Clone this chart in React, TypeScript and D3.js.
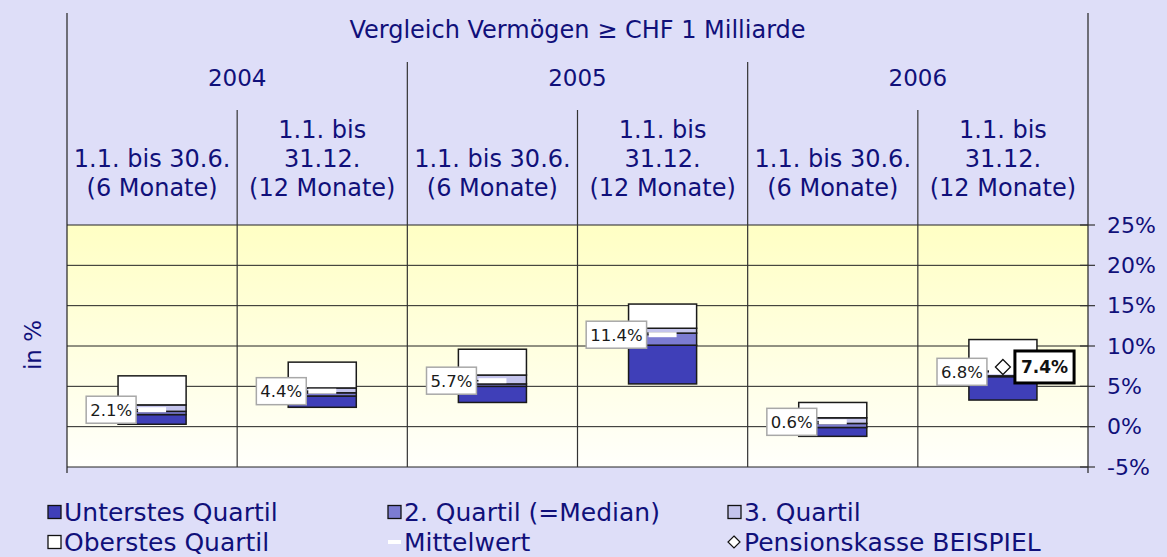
import React from "react";
import * as d3 from "d3";

const title = "Vergleich Vermögen ≥ CHF 1 Milliarde";
const years = ["2004", "2005", "2006"];
const periodLabels: string[][] = [
  ["1.1. bis 30.6.", "(6 Monate)"],
  ["1.1. bis", "31.12.", "(12 Monate)"],
  ["1.1. bis 30.6.", "(6 Monate)"],
  ["1.1. bis", "31.12.", "(12 Monate)"],
  ["1.1. bis 30.6.", "(6 Monate)"],
  ["1.1. bis", "31.12.", "(12 Monate)"],
];
const yTicks = [-5, 0, 5, 10, 15, 20, 25];

const minVals = [0.3, 2.4, 3.0, 5.3, -1.2, 3.3];
const q1Vals = [1.5, 3.8, 5.0, 10.1, -0.1, 6.2];
const medianVals = [1.9, 4.2, 5.3, 11.6, 0.4, 6.3];
const q3Vals = [2.7, 4.8, 6.4, 12.2, 1.1, 6.9];
const maxVals = [6.3, 8.0, 9.6, 15.2, 3.0, 10.8];
const meanVals = [2.1, 4.4, 5.7, 11.4, 0.6, 6.8];
const pkVals: (number | null)[] = [null, null, null, null, null, 7.4];

const legendLabels = [
  "Unterstes Quartil",
  "2. Quartil (=Median)",
  "3. Quartil",
  "Oberstes Quartil",
  "Mittelwert",
  "Pensionskasse BEISPIEL",
];

const NAVY = "#10107a";
const C_Q1 = "#3f3fb8";
const C_Q2 = "#7c7cd2";
const C_Q3 = "#c4c4ec";
const C_Q4 = "#ffffff";
const BG = "#dedef8";
const FONT = "'DejaVu Sans', Verdana, sans-serif";

function textW(s: string, size: number, bold = false) {
  let w = 0;
  for (const ch of s) {
    if (/[0-9]/.test(ch)) w += bold ? 0.696 : 0.636;
    else if (ch === ".") w += bold ? 0.38 : 0.318;
    else if (ch === "%") w += bold ? 1.002 : 0.95;
    else w += 0.6;
  }
  return w * size;
}

export default function App() {
  const W = 1167, H = 557;
  const left = 67, right = 1088, top = 225, bottom = 467;
  const y = d3.scaleLinear().domain([-5, 25]).range([bottom, top]);
  const idx = d3.range(6);
  const x = d3.scaleBand<number>().domain(idx).range([left, right]).paddingInner(0.6).paddingOuter(0.3);
  const col = d3.scaleLinear().domain([0, 6]).range([left, right]);
  const bw = x.bandwidth();
  const dashHalf = 14;

  const segs = [
    { lo: minVals, hi: q1Vals, fill: C_Q1 },
    { lo: q1Vals, hi: medianVals, fill: C_Q2 },
    { lo: medianVals, hi: q3Vals, fill: C_Q3 },
    { lo: q3Vals, hi: maxVals, fill: C_Q4 },
  ];

  const legendPos = [
    { x: 48, y: 512 }, { x: 388, y: 512 }, { x: 728, y: 512 },
    { x: 48, y: 542 }, { x: 388, y: 542 }, { x: 728, y: 542 },
  ];
  const legendFills = [C_Q1, C_Q2, C_Q3, C_Q4];

  return (
    <svg width={W} height={H} style={{ position: "absolute", left: 0, top: 0, fontFamily: FONT }}>
      <defs>
        <linearGradient id="plotbg" x1="0" y1="0" x2="0" y2="1">
          <stop offset="0" stopColor="#ffffc4" />
          <stop offset="1" stopColor="#fffffb" />
        </linearGradient>
      </defs>
      <rect x={0} y={0} width={W} height={H} fill={BG} />
      <rect x={left} y={top} width={right - left} height={bottom - top} fill="url(#plotbg)" />

      {/* grid lines */}
      {yTicks.map((t) => (
        <line key={"g" + t} x1={left} x2={right} y1={y(t)} y2={y(t)} stroke="#222" strokeWidth={1} />
      ))}

      {/* header lines */}
      <line x1={left} x2={left} y1={13} y2={bottom + 6} stroke="#222" strokeWidth={1.2} />
      <line x1={right} x2={right} y1={13} y2={bottom + 6} stroke="#222" strokeWidth={1.2} />
      {[2, 4].map((i) => (
        <line key={"yd" + i} x1={col(i)} x2={col(i)} y1={62} y2={bottom} stroke="#333" strokeWidth={1.2} />
      ))}
      {[1, 3, 5].map((i) => (
        <line key={"pd" + i} x1={col(i)} x2={col(i)} y1={110} y2={bottom} stroke="#333" strokeWidth={1.2} />
      ))}

      {/* header text */}
      <text x={(left + right) / 2} y={30} textAnchor="middle" dominantBaseline="central" fill={NAVY} fontSize={24}>
        {title}
      </text>
      {years.map((yr, i) => (
        <text key={yr} x={(col(i * 2) + col(i * 2 + 2)) / 2} y={78} textAnchor="middle" dominantBaseline="central" fill={NAVY} fontSize={23}>
          {yr}
        </text>
      ))}
      {periodLabels.map((lines, i) => {
        const cx = (col(i) + col(i + 1)) / 2;
        const ys = lines.length === 3 ? [130, 159, 188] : [159, 188];
        return lines.map((ln, j) => (
          <text key={i + "-" + j} x={cx} y={ys[j]} textAnchor="middle" dominantBaseline="central" fill={NAVY} fontSize={24}>
            {ln}
          </text>
        ));
      })}

      {/* right axis ticks and labels */}
      {yTicks.map((t) => (
        <g key={"t" + t}>
          <line x1={right - 8} x2={right + 7} y1={y(t)} y2={y(t)} stroke="#333" strokeWidth={1.2} />
          <text x={right + 19} y={y(t)} dominantBaseline="central" fill={NAVY} fontSize={22}>
            {t + "%"}
          </text>
        </g>
      ))}

      {/* y label */}
      <text transform={`translate(33,345) rotate(-90)`} textAnchor="middle" dominantBaseline="central" fill={NAVY} fontSize={23}>
        in %
      </text>

      {/* bars */}
      {idx.map((i) => (
        <g key={"b" + i}>
          {segs.map((s, k) => (
            <rect key={k} x={x(i)!} y={y(s.hi[i])} width={bw} height={Math.max(0, y(s.lo[i]) - y(s.hi[i]))} fill={s.fill} stroke="#1a1a1a" strokeWidth={1.5} />
          ))}
        </g>
      ))}

      {/* mean dashes and labels */}
      {idx.map((i) => {
        const cx = x(i)! + bw / 2;
        const my = y(meanVals[i]);
        const label = meanVals[i].toFixed(1) + "%";
        const tw = textW(label, 16.5) + 8;
        const bx = cx - dashHalf - 2 - tw;
        return (
          <g key={"m" + i}>
            <rect x={cx - dashHalf} y={my - 2.5} width={dashHalf * 2} height={5} fill="#fff" />
            <line x1={bx + tw} x2={cx - dashHalf} y1={my} y2={my} stroke="#111" strokeWidth={1.5} />
            <rect x={bx} y={my - 13.5} width={tw} height={27} fill="#fff" stroke="#a8a8a8" strokeWidth={1.5} />
            <text x={bx + tw / 2} y={my + 0.5} textAnchor="middle" dominantBaseline="central" fontSize={16.5} fill="#1a1a1a">
              {label}
            </text>
          </g>
        );
      })}

      {/* Pensionskasse */}
      {idx.map((i) => {
        const v = pkVals[i];
        if (v == null) return null;
        const cx = x(i)! + bw / 2;
        const py = y(v);
        const label = v.toFixed(1) + "%";
        const tw = textW(label, 17, true) + 12;
        const bx = cx + 12;
        return (
          <g key={"pk" + i}>
            <path d={`M${cx},${py - 7.5} L${cx + 7.5},${py} L${cx},${py + 7.5} L${cx - 7.5},${py} Z`} fill="#fff" stroke="#111" strokeWidth={1.3} />
            <rect x={bx} y={py - 16} width={tw} height={32} fill="#fff" stroke="#000" strokeWidth={3} />
            <text x={bx + tw / 2} y={py + 0.5} textAnchor="middle" dominantBaseline="central" fontSize={17} fontWeight="bold" fill="#111">
              {label}
            </text>
          </g>
        );
      })}

      {/* legend */}
      {legendLabels.map((lab, i) => {
        const p = legendPos[i];
        let marker: React.ReactNode;
        if (i < 4) {
          marker = <rect x={p.x} y={p.y - 6.5} width={13} height={13} fill={legendFills[i]} stroke="#111" strokeWidth={1.3} />;
        } else if (i === 4) {
          marker = <rect x={p.x} y={p.y - 2} width={13} height={4} fill="#fff" />;
        } else {
          const cx = p.x + 6;
          marker = <path d={`M${cx},${p.y - 6} L${cx + 6},${p.y} L${cx},${p.y + 6} L${cx - 6},${p.y} Z`} fill="#fff" stroke="#111" strokeWidth={1.2} />;
        }
        return (
          <g key={"l" + i}>
            {marker}
            <text x={p.x + 16} y={p.y} dominantBaseline="central" fill={NAVY} fontSize={25}>
              {lab}
            </text>
          </g>
        );
      })}
    </svg>
  );
}
